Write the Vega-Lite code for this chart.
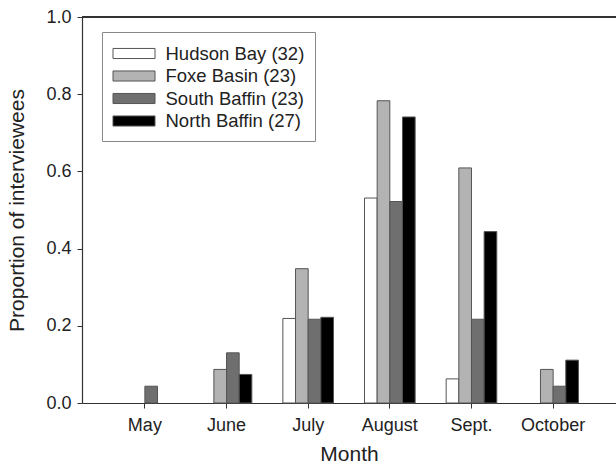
{
  "$schema": "https://vega.github.io/schema/vega-lite/v6.json",
  "width": 534,
  "height": 386,
  "autosize": {"type": "none"},
  "padding": {"left": 82, "top": 17, "right": 0, "bottom": 65},
  "background": "white",
  "config": {
    "font": "Liberation Sans",
    "view": {"stroke": null},
    "axis": {"labelFont": "Liberation Sans", "titleFont": "Liberation Sans", "labelColor": "#222", "titleColor": "#222", "titleFontWeight": "normal", "domainColor": "#333", "tickColor": "#333", "grid": false}
  },
  "data": {
    "values": [
      {"month": "May", "region": "South Baffin (23)", "p": 0.0435},
      {"month": "June", "region": "Foxe Basin (23)", "p": 0.087},
      {"month": "June", "region": "South Baffin (23)", "p": 0.13},
      {"month": "June", "region": "North Baffin (27)", "p": 0.074},
      {"month": "July", "region": "Hudson Bay (32)", "p": 0.219},
      {"month": "July", "region": "Foxe Basin (23)", "p": 0.348},
      {"month": "July", "region": "South Baffin (23)", "p": 0.217},
      {"month": "July", "region": "North Baffin (27)", "p": 0.222},
      {"month": "August", "region": "Hudson Bay (32)", "p": 0.531},
      {"month": "August", "region": "Foxe Basin (23)", "p": 0.783},
      {"month": "August", "region": "South Baffin (23)", "p": 0.522},
      {"month": "August", "region": "North Baffin (27)", "p": 0.741},
      {"month": "Sept.", "region": "Hudson Bay (32)", "p": 0.0625},
      {"month": "Sept.", "region": "Foxe Basin (23)", "p": 0.609},
      {"month": "Sept.", "region": "South Baffin (23)", "p": 0.217},
      {"month": "Sept.", "region": "North Baffin (27)", "p": 0.444},
      {"month": "October", "region": "Foxe Basin (23)", "p": 0.087},
      {"month": "October", "region": "South Baffin (23)", "p": 0.0435},
      {"month": "October", "region": "North Baffin (27)", "p": 0.111}
    ]
  },
  "layer": [
    {
      "mark": {"type": "bar", "stroke": "#555", "strokeWidth": 1},
      "encoding": {
        "x": {
          "field": "month", "type": "nominal",
          "sort": ["May", "June", "July", "August", "Sept.", "October"],
          "scale": {"domain": ["May", "June", "July", "August", "Sept.", "October"], "paddingInner": 0.38, "paddingOuter": 0.46},
          "axis": {"title": "Month", "labelAngle": 0, "labelFontSize": 18, "titleFontSize": 21, "tickSize": 5, "labelPadding": 8, "titlePadding": 9, "domainWidth": 1.2}
        },
        "xOffset": {
          "field": "region", "type": "nominal",
          "sort": ["Hudson Bay (32)", "Foxe Basin (23)", "South Baffin (23)", "North Baffin (27)"],
          "scale": {"domain": ["Hudson Bay (32)", "Foxe Basin (23)", "South Baffin (23)", "North Baffin (27)"], "paddingInner": 0, "paddingOuter": 0}
        },
        "y": {
          "field": "p", "type": "quantitative",
          "scale": {"domain": [0, 1], "nice": false},
          "axis": {"title": "Proportion of interviewees", "values": [0, 0.2, 0.4, 0.6, 0.8, 1.0], "format": ".1f", "labelFontSize": 18, "titleFontSize": 21, "tickSize": 5, "labelPadding": 6, "titlePadding": 18, "domainWidth": 1.2}
        },
        "fill": {
          "field": "region", "type": "nominal",
          "sort": ["Hudson Bay (32)", "Foxe Basin (23)", "South Baffin (23)", "North Baffin (27)"],
          "scale": {"domain": ["Hudson Bay (32)", "Foxe Basin (23)", "South Baffin (23)", "North Baffin (27)"], "range": ["#ffffff", "#b3b3b3", "#6f6f6f", "#000000"]},
          "legend": {
            "title": null,
            "orient": "none",
            "legendX": 20,
            "legendY": 15,
            "padding": 10.5,
            "strokeColor": "#888",
            "fillColor": "white",
            "symbolType": "M-1,-0.48H3V0.48H-1Z",
            "symbolSize": 441,
            "symbolStrokeColor": "#555",
            "symbolStrokeWidth": 1,
            "labelFont": "Liberation Sans",
            "labelFontSize": 18.5,
            "labelColor": "#222",
            "labelOffset": 31,
            "rowPadding": 1.5
          }
        }
      }
    },
    {
      "mark": {"type": "rule", "color": "#333", "strokeWidth": 1.2},
      "encoding": {"y": {"datum": 1}}
    }
  ]
}
